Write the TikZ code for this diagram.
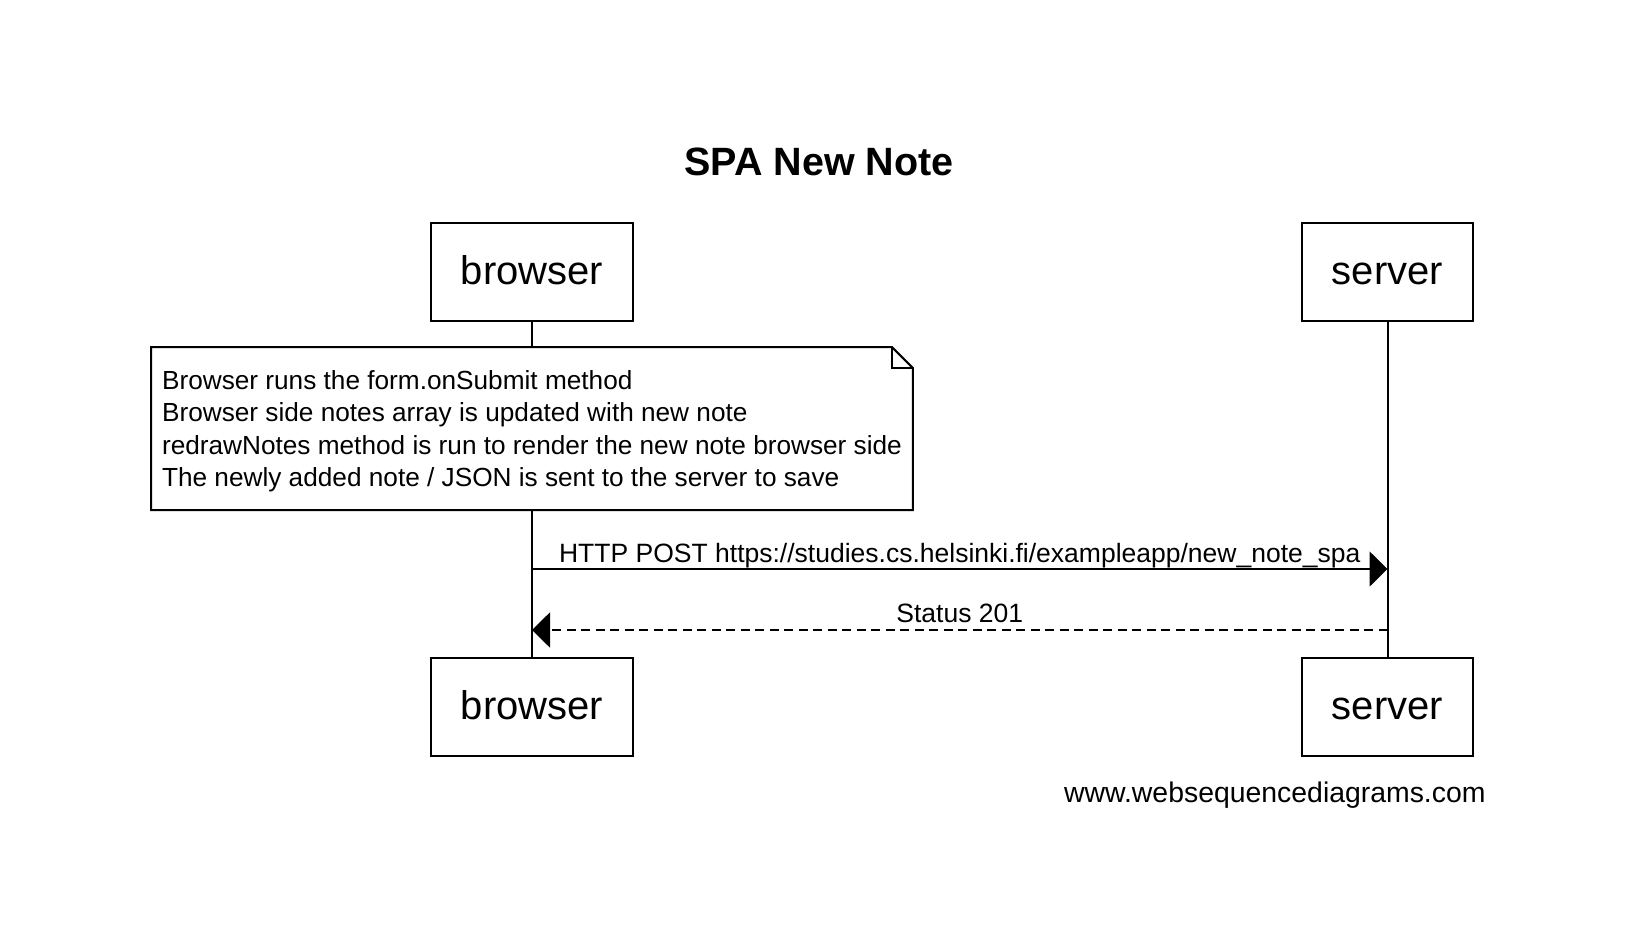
\documentclass[tikz,border=0pt]{standalone}
\usepackage{fontspec}
\setmainfont{Liberation Sans}
\usetikzlibrary{arrows.meta,positioning}

\tikzset{
  actor/.style={draw, line width=1pt, inner xsep=15pt, minimum height=49pt,
    text height=14.5pt, text depth=2.5pt, font=\fontsize{20}{24}\selectfont},
  lifeline/.style={line width=1pt},
  msg/.style={line width=1pt, -{Triangle[length=9pt,width=17.5pt]}},
  reply/.style={msg, dash pattern=on 4.5pt off 2.75pt},
  msglabel/.style={font=\fontsize{13.25}{16}\selectfont, anchor=base, inner sep=0pt},
}

\begin{document}
\begin{tikzpicture}[x=0.5pt, y=-0.5pt]
  \useasboundingbox (0,0) rectangle (1630,928);

  % Title
  \node[font=\fontsize{19.75}{24}\selectfont\bfseries, anchor=base, inner sep=0pt] (title) at (819,175) {SPA New Note};

  % Participants
  \node[actor] (browserTop) at (532,272) {browser};
  \node[actor] (serverTop) at (1387.5,272) {server};
  \node[actor] (browserBot) at (532,707) {browser};
  \node[actor] (serverBot) at (1387.5,707) {server};

  % Lifelines
  \draw[lifeline] (browserTop) -- (browserBot);
  \draw[lifeline] (serverTop) -- (serverBot);

  % Note over browser
  \node[fill=white, outer sep=0pt, inner xsep=5.5pt, minimum width=380pt, minimum height=81.5pt,
    text depth=0pt, align=left, font=\fontsize{13.1}{16.2}\selectfont] (note) at (532,428.5)
    {Browser runs the form.onSubmit method\\
     Browser side notes array is updated with new note\\
     redrawNotes method is run to render the new note browser side\\
     The newly added note / JSON is sent to the server to save};
  \draw[line width=1pt] (note.north west) -- ([xshift=-10.5pt]note.north east)
    -- ([yshift=-10.5pt]note.north east) -- (note.south east) -- (note.south west) -- cycle;
  \draw[line width=1pt] ([xshift=-10.5pt]note.north east) |- ([yshift=-10.5pt]note.north east);

  % Messages
  \coordinate (bPost) at (532,569);
  \coordinate (sPost) at (1387.5,569);
  \coordinate (bAck) at (532,630);
  \coordinate (sAck) at (1387.5,630);
  \draw[msg] (bPost) -- node[msglabel, yshift=3.5pt] (postLabel)
    {HTTP POST https://studies.cs.helsinki.fi/exampleapp/new\_note\_spa} (sPost);
  \draw[reply] (sAck) -- node[msglabel, yshift=4pt] (ackLabel) {Status 201} (bAck);

  % Footer
  \node[font=\fontsize{14.2}{17}\selectfont, anchor=base east, inner sep=0pt] (footer) at (1486,802) {www.websequencediagrams.com};
\end{tikzpicture}
\end{document}
